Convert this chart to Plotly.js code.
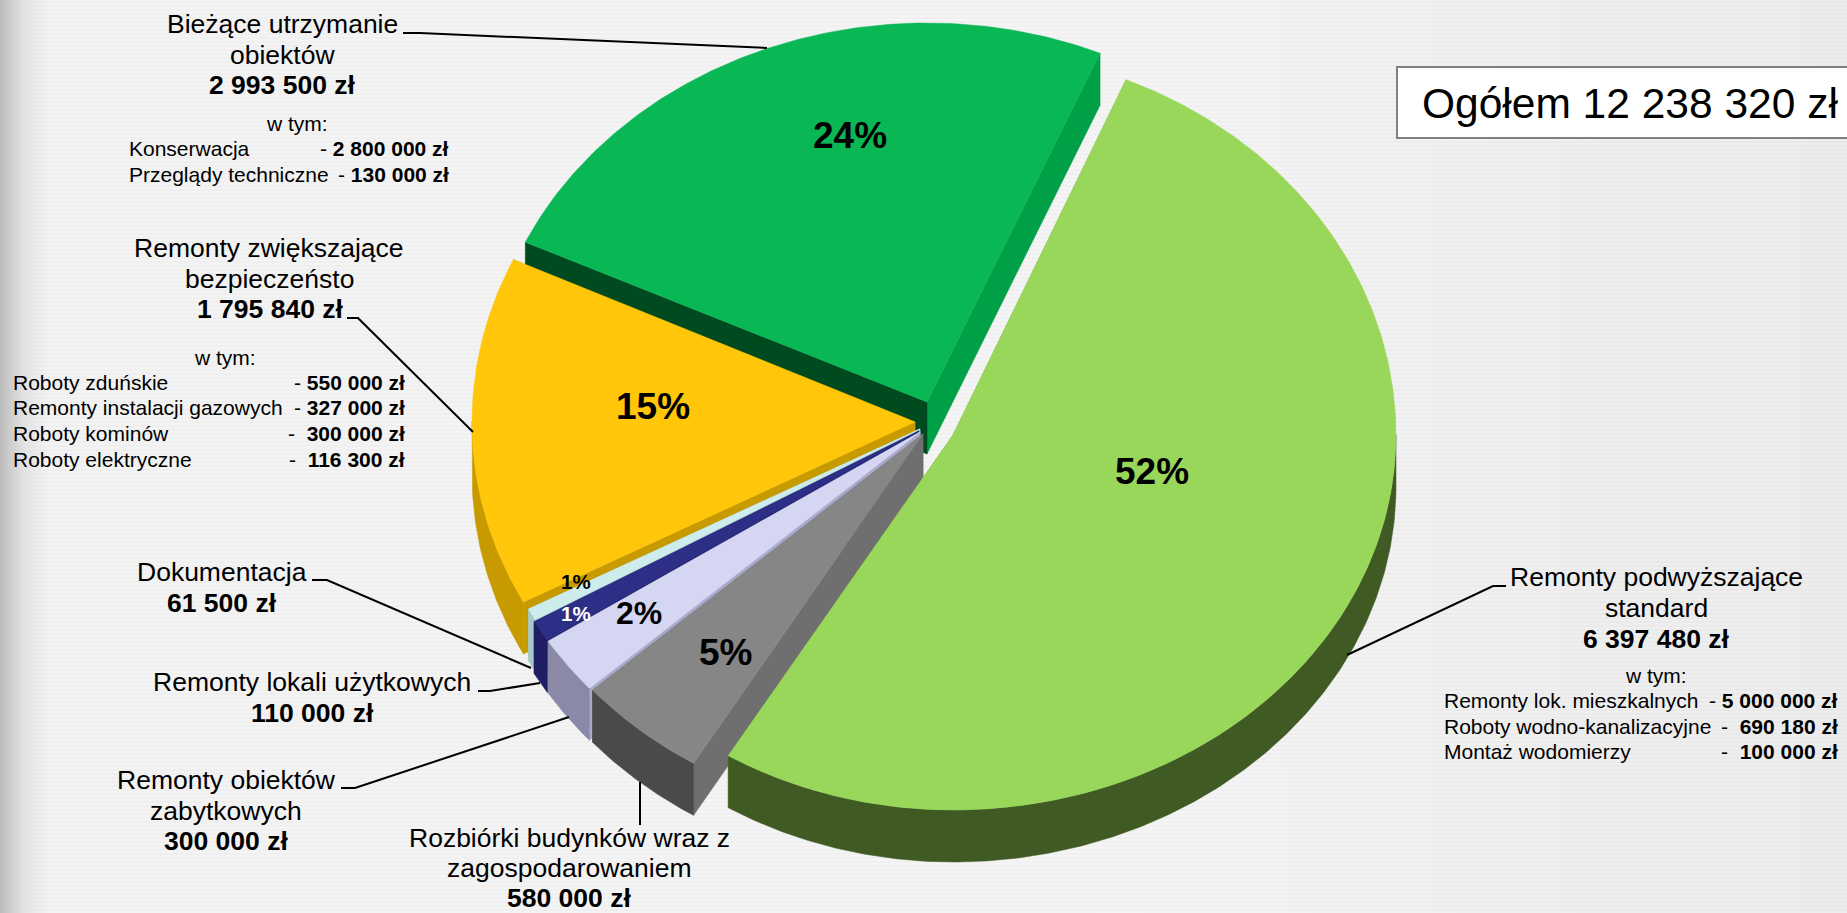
<!DOCTYPE html>
<html>
<head>
<meta charset="utf-8">
<script src="https://cdn.plot.ly/plotly-3.0.1.min.js"></script>
<style>
html,body{margin:0;padding:0;width:1847px;height:913px;overflow:hidden;}
body{background:
 linear-gradient(90deg,#bcbcbc 0,#cdcdcd 10px,#e2e2e2 24px,rgba(240,240,240,0) 48px),
 repeating-linear-gradient(0deg,rgba(255,255,255,.18) 0,rgba(255,255,255,.18) 2px,rgba(225,225,225,.12) 2px,rgba(225,225,225,.12) 4px),
 linear-gradient(90deg,#f1f1f1 0,#f3f3f3 62%,#ececec 85%,#e9e9e9 100%);}
#chart{width:1847px;height:913px;}
</style>
</head>
<body>
<div id="chart"></div>
<script>
// ---- chart data ----
const categories = ["Remonty podwyższające standard","Rozbiórki budynków wraz z zagospodarowaniem","Remonty obiektów zabytkowych","Remonty lokali użytkowych","Dokumentacja","Remonty zwiększające bezpieczeństo","Bieżące utrzymanie obiektów"];
const values = [6397480,580000,300000,110000,61500,1795840,2993500];
const percentLabels = ["52%","5%","2%","1%","1%","15%","24%"];
const topColors   = ["#99d75a","#868686","#d5d6f2","#2d2e85","#cfecec","#ffc60a","#0ab755"];
const startWalls  = ["#7fae4a","#6f6f6f","#a9a9cc","#23246c","#a9c8c8","#c79a00","#004a1f"];
const endWalls    = ["#7fae4a","#6f6f6f","#a9a9cc","#23246c","#a9c8c8","#c79a00","#00a046"];
const outerWalls  = ["#3f5a23","#4a4a4a","#8a8aa8","#1d1e63","#a9c8c8","#c79a00","#00a046"];
// ---- geometry / style of the tilted, exploded pie ----
const centerX = [953,923,920,919,920,915,927];
const centerY = [435,434,432,431,429,422,402];
const depth = 52, startAngle = 23;
const radiusRight = [443,443,443,443,443,443,443];
const radiusLeft  = [434,443,443,443,443,443,443];
const radiusUp    = [386,385,385,385,385,385,379];
const radiusDown  = [375,385,385,385,385,385,379];
const drawOrder = [6,5,4,3,2,1,0];
const pctX = [1152,725,639,576,576,653,850];
const pctY = [471,652,613,613,581,406,135];
const pctSize = [37,37,32,20.5,20.5,37,37];
const pctColor = ["#000","#000","#000","#fff","#000","#000","#000"];

// ---- text blocks ----
const headLines = [
 ["Bieżące utrzymanie",282,24,0],["obiektów",282,55,0],["2 993 500 zł",282,85,1],
 ["Remonty zwiększające",269,248,0],["bezpieczeństo",269,279,0],["1 795 840 zł",270,309,1],
 ["Dokumentacja",222,572,0],["61 500 zł",222,603,1],
 ["Remonty lokali użytkowych",312,682,0],["110 000 zł",312,713,1],
 ["Remonty obiektów",226,780,0],["zabytkowych",226,811,0],["300 000 zł",226,841,1],
 ["Rozbiórki budynków wraz z",569,838,0],["zagospodarowaniem",569,868,0],["580 000 zł",569,898,1],
 ["Remonty podwyższające",1656,577,0],["standard",1656,608,0],["6 397 480 zł",1656,639,1]
];
const wTymLines = [[297,123],[225,357],[1656,675]];
const detailRows = [
 ["Konserwacja","- ","2 800 000 zł",128,450,148],
 ["Przeglądy techniczne","- ","130 000 zł",128,450,174],
 ["Roboty zduńskie","- ","550 000 zł",12,406,382],
 ["Remonty instalacji gazowych","- ","327 000 zł",12,406,407],
 ["Roboty kominów","-  ","300 000 zł",12,406,433],
 ["Roboty elektryczne","-  ","116 300 zł",12,406,459],
 ["Remonty lok. mieszkalnych","- ","5 000 000 zł",1443,1839,700],
 ["Roboty wodno-kanalizacyjne","-  ","690 180 zł",1443,1839,726],
 ["Montaż wodomierzy","-  ","100 000 zł",1443,1839,751]
];
const totalLabel = "Ogółem 12 238 320 zł";
const leaders = [
 [[403,33],[420,33],[767,48]],
 [[347,318],[358,318],[473,432]],
 [[312,580],[327,580],[531,668]],
 [[478,691],[490,691],[540,683]],
 [[341,788],[355,788],[569,717]],
 [[640,825],[640,782]],
 [[1506,586],[1493,586],[1347,655]]
];

// ---- build ----
const FONT = "Liberation Sans, Arial, sans-serif";
const total = values.reduce((a,b)=>a+b,0);
const starts = [], ends = [];
let acc = startAngle;
values.forEach(v=>{starts.push(acc); acc += v/total*360; ends.push(acc);});
const rad = d=>d*Math.PI/180;
const px = (i,t)=>{const s=Math.sin(rad(t));return centerX[i]+(s>0?radiusRight[i]:radiusLeft[i])*s;};
const py = (i,t,off)=>{const c=Math.cos(rad(t));return centerY[i]-(c>0?radiusUp[i]:radiusDown[i])*c+(off||0);};
function arcPts(i,t1,t2,off){
  const xs=[],ys=[],n=Math.max(2,Math.ceil(Math.abs(t2-t1)/0.5));
  for(let k=0;k<=n;k++){const t=t1+(t2-t1)*k/n;xs.push(px(i,t));ys.push(py(i,t,off));}
  return [xs,ys];
}
function poly(xs,ys,color,name){
  return {type:"scatter",mode:"lines",x:xs.concat(xs[0]),y:ys.concat(ys[0]),fill:"toself",fillcolor:color,
    line:{width:0.5,color:color},showlegend:false,name:name,hoverinfo:"name"};
}
const traces=[];
drawOrder.forEach(i=>{
  const c=categories[i],s=starts[i],e=ends[i],cx=centerX[i],cy=centerY[i];
  const radial=(t,col)=>poly([cx,px(i,t),px(i,t),cx],[cy,py(i,t),py(i,t,depth),cy+depth],col,c);
  traces.push(radial(e,endWalls[i]));
  traces.push(radial(s,startWalls[i]));
  const lo=Math.max(s,90),hi=Math.min(e,270);
  if(hi>lo){
    const a=arcPts(i,lo,hi,0),b=arcPts(i,hi,lo,depth);
    traces.push(poly(a[0].concat(b[0]),a[1].concat(b[1]),outerWalls[i],c));
  }
  const top=arcPts(i,s,e,0);
  traces.push(poly([cx].concat(top[0]),[cy].concat(top[1]),topColors[i],c));
});
const ann=[];
const addText=(text,x,y,size,anchor,color)=>ann.push({text,x,y,xref:"x",yref:"y",showarrow:false,xanchor:anchor||"center",yanchor:"middle",
  font:{family:FONT,size:size,color:color||"#000"},borderpad:0,align:"center"});
headLines.forEach(l=>addText(l[3]?"<b>"+l[0]+"</b>":l[0],l[1],l[2],26.5));
wTymLines.forEach(l=>addText("w tym:",l[0],l[1],21));
detailRows.forEach(r=>{
  addText(r[0],r[3],r[5],21,"left");
  addText(r[1].replace(/ /g,"\u00a0")+"<b>"+r[2]+"</b>",r[4],r[5],21,"right");
});
percentLabels.forEach((p,i)=>addText("<b>"+p+"</b>",pctX[i],pctY[i],pctSize[i],"center",pctColor[i]));
addText(totalLabel,1630,103,42.5);
const shapes=leaders.map(pts=>({type:"path",xref:"x",yref:"y",
  path:pts.map((p,k)=>(k?"L":"M")+p[0]+" "+p[1]).join(" "),line:{color:"#000",width:2}}));
shapes.push({type:"rect",xref:"x",yref:"y",x0:1397,x1:1860,y0:67,y1:138,fillcolor:"#fff",line:{color:"#808080",width:2},layer:"below"});
const hidden={visible:false,fixedrange:true};
Plotly.newPlot("chart",traces,{
  width:1847,height:913,margin:{l:0,r:0,t:0,b:0},autosize:false,
  paper_bgcolor:"rgba(0,0,0,0)",plot_bgcolor:"rgba(0,0,0,0)",showlegend:false,
  xaxis:Object.assign({range:[0,1847]},hidden),
  yaxis:Object.assign({range:[913,0]},hidden),
  annotations:ann,shapes:shapes,hovermode:"closest"
},{displayModeBar:false});
</script>
</body>
</html>
